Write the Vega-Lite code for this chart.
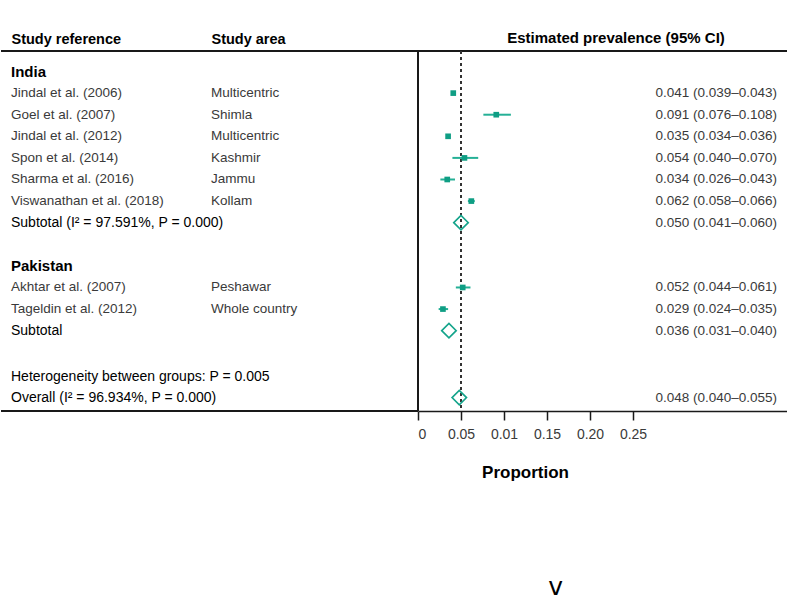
{
  "$schema": "https://vega.github.io/schema/vega-lite/v6.json",
  "padding": {"left": 0, "top": 31, "right": 0, "bottom": 0},
  "spacing": 0,
  "bounds": "flush",
  "config": {"view": {"stroke": null}, "font": "Liberation Sans"},
  "datasets": {
    "rows": [
      {"pos": 1, "kind": "group", "ref": "India"},
      {"pos": 2, "kind": "study", "ref": "Jindal et al. (2006)", "area": "Multicentric", "est": 0.041, "lo": 0.039, "hi": 0.043, "ci": "0.041 (0.039–0.043)"},
      {"pos": 3, "kind": "study", "ref": "Goel et al. (2007)", "area": "Shimla", "est": 0.091, "lo": 0.076, "hi": 0.108, "ci": "0.091 (0.076–0.108)"},
      {"pos": 4, "kind": "study", "ref": "Jindal et al. (2012)", "area": "Multicentric", "est": 0.035, "lo": 0.034, "hi": 0.036, "ci": "0.035 (0.034–0.036)"},
      {"pos": 5, "kind": "study", "ref": "Spon et al. (2014)", "area": "Kashmir", "est": 0.054, "lo": 0.040, "hi": 0.070, "ci": "0.054 (0.040–0.070)"},
      {"pos": 6, "kind": "study", "ref": "Sharma et al. (2016)", "area": "Jammu", "est": 0.034, "lo": 0.026, "hi": 0.043, "ci": "0.034 (0.026–0.043)"},
      {"pos": 7, "kind": "study", "ref": "Viswanathan et al. (2018)", "area": "Kollam", "est": 0.062, "lo": 0.058, "hi": 0.066, "ci": "0.062 (0.058–0.066)"},
      {"pos": 8, "kind": "pooled", "ref": "Subtotal (I² = 97.591%, P = 0.000)", "est": 0.050, "lo": 0.041, "hi": 0.060, "ci": "0.050 (0.041–0.060)"},
      {"pos": 10, "kind": "group", "ref": "Pakistan"},
      {"pos": 11, "kind": "study", "ref": "Akhtar et al. (2007)", "area": "Peshawar", "est": 0.052, "lo": 0.044, "hi": 0.061, "ci": "0.052 (0.044–0.061)"},
      {"pos": 12, "kind": "study", "ref": "Tageldin et al. (2012)", "area": "Whole country", "est": 0.029, "lo": 0.024, "hi": 0.035, "ci": "0.029 (0.024–0.035)"},
      {"pos": 13, "kind": "pooled", "ref": "Subtotal", "est": 0.036, "lo": 0.031, "hi": 0.040, "ci": "0.036 (0.031–0.040)"},
      {"pos": 15.13, "kind": "note", "ref": "Heterogeneity between groups: P = 0.005"},
      {"pos": 16.1, "kind": "pooled", "ref": "Overall (I² = 96.934%, P = 0.000)", "est": 0.048, "lo": 0.040, "hi": 0.055, "ci": "0.048 (0.040–0.055)"}
    ]
  },
  "title": {"text": "v", "orient": "bottom", "anchor": "start", "dx": 548, "offset": 115, "baseline": "alphabetic", "fontSize": 25, "fontWeight": "normal", "font": "DejaVu Sans", "color": "#000"},
  "hconcat": [
    {
      "width": 417,
      "height": 360,
      "data": {"name": "rows"},
      "layer": [
        {
          "mark": {"type": "rule", "color": "#1a1a1a", "strokeWidth": 1.5},
          "encoding": {"y": {"datum": 0.05, "type": "quantitative", "scale": {"domain": [0.05, 16.72], "reverse": true, "nice": false, "zero": false}, "axis": null}}
        },
        {
          "mark": {"type": "rule", "color": "#1a1a1a", "strokeWidth": 1.5},
          "encoding": {"y": {"datum": 16.72, "type": "quantitative"}}
        },
        {
          "transform": [{"filter": "datum.kind == 'study'"}],
          "mark": {"type": "text", "align": "left", "baseline": "middle", "fontSize": 13.5, "color": "#3a3a3a"},
          "encoding": {
            "x": {"datum": "ref", "type": "nominal", "scale": {"type": "point", "domain": ["ref", "area"], "range": [10, 210], "padding": 0},
              "axis": {"orient": "top", "title": null, "domain": false, "ticks": false, "tickSize": 0, "grid": false, "labelAngle": 0,
                "labelExpr": "datum.value == 'ref' ? 'Study reference' : 'Study area'", "labelAlign": "left", "labelBaseline": "alphabetic",
                "labelFontSize": 14.5, "labelFontWeight": "bold", "labelColor": "#000", "labelPadding": 8, "labelOverlap": false, "labelBound": false}},
            "y": {"field": "pos", "type": "quantitative"},
            "text": {"field": "ref"}
          }
        },
        {
          "transform": [{"filter": "datum.kind == 'study'"}],
          "mark": {"type": "text", "align": "left", "baseline": "middle", "fontSize": 13.5, "color": "#3a3a3a"},
          "encoding": {
            "x": {"datum": "area", "type": "nominal"},
            "y": {"field": "pos", "type": "quantitative"},
            "text": {"field": "area"}
          }
        },
        {
          "transform": [{"filter": "datum.kind == 'group'"}],
          "mark": {"type": "text", "align": "left", "baseline": "middle", "fontSize": 15, "fontWeight": "bold", "color": "#000"},
          "encoding": {
            "x": {"datum": "ref", "type": "nominal"},
            "y": {"field": "pos", "type": "quantitative"},
            "text": {"field": "ref"}
          }
        },
        {
          "transform": [{"filter": "datum.kind == 'pooled' || datum.kind == 'note'"}],
          "mark": {"type": "text", "align": "left", "baseline": "middle", "fontSize": 14, "color": "#000"},
          "encoding": {
            "x": {"datum": "ref", "type": "nominal"},
            "y": {"field": "pos", "type": "quantitative"},
            "text": {"field": "ref"}
          }
        }
      ]
    },
    {
      "width": 370,
      "height": 360,
      "title": {"text": "Estimated prevalence (95% CI)", "anchor": "middle", "dx": 13, "offset": -8, "baseline": "alphabetic", "fontSize": 15, "fontWeight": "bold", "color": "#000", "font": "Liberation Sans"},
      "data": {"name": "rows"},
      "layer": [
        {
          "mark": {"type": "rule", "color": "#1a1a1a", "strokeWidth": 1.5},
          "encoding": {"y": {"datum": 0.05, "type": "quantitative", "scale": {"domain": [0.05, 16.72], "reverse": true, "nice": false, "zero": false}, "axis": null}}
        },
        {
          "mark": {"type": "rule", "color": "#1a1a1a", "strokeWidth": 1.5},
          "encoding": {"x": {"datum": 0, "type": "quantitative", "scale": {"domain": [0, 0.4302], "nice": false, "zero": false},
            "axis": {"orient": "bottom", "values": [0, 0.05, 0.1, 0.15, 0.2, 0.25],
              "labelExpr": "datum.value == 0 ? '0' : (abs(datum.value - 0.1) < 1e-9 ? '0.01' : format(datum.value, '.2f'))",
              "tickSize": 9, "tickWidth": 1.5, "tickColor": "#1a1a1a", "domainColor": "#1a1a1a", "domainWidth": 1.5, "grid": false,
              "labelFontSize": 14, "labelColor": "#3a3a3a", "labelPadding": 7, "labelFont": "Liberation Sans",
              "title": "Proportion", "titleFontSize": 17, "titleFontWeight": "bold", "titleColor": "#000", "titleX": 107, "titlePadding": 23, "titleFont": "Liberation Sans"}}}
        },
        {
          "mark": {"type": "rule", "color": "#333333", "strokeWidth": 1.5, "strokeDash": [3, 3]},
          "encoding": {"x": {"datum": 0.05, "type": "quantitative"}}
        },
        {
          "transform": [{"filter": "datum.kind == 'study'"}],
          "mark": {"type": "rule", "color": "#25b096", "strokeWidth": 2},
          "encoding": {
            "x": {"field": "lo", "type": "quantitative"},
            "x2": {"field": "hi"},
            "y": {"field": "pos", "type": "quantitative"}
          }
        },
        {
          "transform": [{"filter": "datum.kind == 'study'"}],
          "mark": {"type": "point", "shape": "square", "filled": true, "size": 32, "color": "#0f9e84", "opacity": 1},
          "encoding": {
            "x": {"field": "est", "type": "quantitative"},
            "y": {"field": "pos", "type": "quantitative"}
          }
        },
        {
          "transform": [{"filter": "datum.kind == 'pooled'"}],
          "mark": {"type": "point", "shape": "diamond", "filled": false, "size": 210, "stroke": "#14a48b", "strokeWidth": 1.6, "opacity": 1},
          "encoding": {
            "x": {"field": "est", "type": "quantitative"},
            "y": {"field": "pos", "type": "quantitative"}
          }
        },
        {
          "transform": [{"filter": "isValid(datum.ci)"}],
          "mark": {"type": "text", "align": "right", "baseline": "middle", "fontSize": 13.5, "color": "#3a3a3a", "dx": -11},
          "encoding": {
            "x": {"value": "width"},
            "y": {"field": "pos", "type": "quantitative"},
            "text": {"field": "ci"}
          }
        }
      ]
    }
  ]
}
